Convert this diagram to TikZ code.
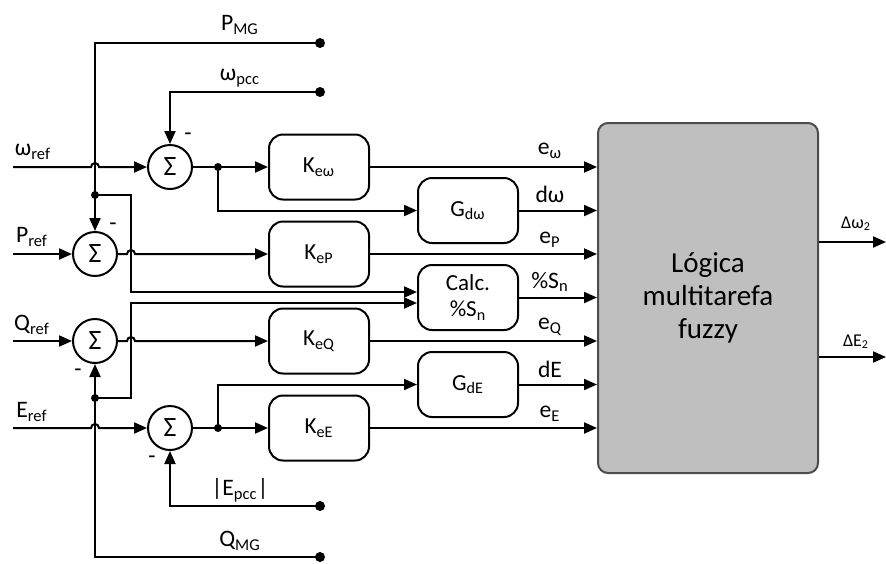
\documentclass[tikz,border=0pt]{standalone}
\usepackage{fontspec}
\setmainfont{Carlito}
\usepackage{tikz}
\usetikzlibrary{arrows.meta}
\usetikzlibrary{positioning}
\usetikzlibrary{calc}

\newcommand{\hoparc}{arc[start angle=180, end angle=0, radius=2pt]}

\tikzset{
	wire/.style={line width=1pt},
	sig/.style={line width=1pt, -{Triangle[length=6.5pt,width=5.5pt]}},
	sumnode/.style={draw, circle, line width=1pt, minimum size=22pt, inner sep=0pt, font=\fontsize{14}{15}\selectfont},
	gainbox/.style={draw, rounded corners=7pt, line width=1pt, minimum width=50pt, minimum height=32.5pt, align=center, font=\fontsize{11.5}{13}\selectfont},
	fuzzybox/.style={draw=black!70, fill=black!25, rounded corners=5pt, line width=1pt, minimum width=110pt, minimum height=175pt, align=center, font=\fontsize{14.5}{16.5}\selectfont},
	lbl/.style={font=\fontsize{11.8}{13}\selectfont, inner sep=0pt},
	smalllbl/.style={font=\fontsize{9}{10}\selectfont, inner sep=0pt},
}

\begin{document}
\begin{tikzpicture}[x=0.5pt, y=-0.5pt]
		\useasboundingbox (0,0) rectangle (886,563);
		\node[sumnode] (sw) at (170,167) {Σ};
		\node[sumnode] (sp) at (95,254) {Σ};
		\node[sumnode] (sq) at (95,341) {Σ};
		\node[sumnode] (se) at (170,428) {Σ};
		\node[gainbox] (kw) at (319,167) {K\textsubscript{eω}};
		\node[gainbox] (kp) at (319,254) {K\textsubscript{eP}};
		\node[gainbox] (kq) at (319,341) {K\textsubscript{eQ}};
		\node[gainbox] (ke) at (319,428) {K\textsubscript{eE}};
		\node[gainbox] (gw) at (468,210.5) {G\textsubscript{dω}};
		\node[gainbox] (calc) at (468,297.5) {Calc.\\\%S\textsubscript{n}};
		\node[gainbox] (ge) at (468,384.5) {G\textsubscript{dE}};
		\node[fuzzybox] (fz) at (708,298) {Lógica\\multitarefa\\fuzzy};
		\coordinate (pmg) at (320,43);
		\coordinate (wpcc) at (320,92);
		\coordinate (epcc) at (320,506);
		\coordinate (qmg) at (320,557);
		\coordinate (wref) at (13,167);
		\coordinate (pref) at (13,254);
		\coordinate (qref) at (13,341);
		\coordinate (eref) at (13,428);
		\coordinate (jp) at (95,195);
		\coordinate (jq) at (95,398);
		\coordinate (jw) at (218,167);
		\coordinate (je) at (218,428);
		\coordinate (bus) at (131,0);
		\coordinate (ci1) at ([yshift=2.75pt]calc.west);
		\coordinate (ci2) at ([yshift=-2.75pt]calc.west);
		\coordinate (ow) at (886,242);
		\coordinate (oe) at (886,357);
		\draw[wire] (pmg) -| (jp);
		\draw[sig] (jp) -- (sp.north);
		\draw[sig] (wpcc) -| (sw.north);
		\draw[sig] (wref) -- ($(jp |- wref)+(-2pt,0)$) \hoparc -- (sw.west);
		\draw[sig] (sw.east) -- (kw.west);
		\draw[sig] (jw) |- (gw.west);
		\draw[sig] (pref) -- (sp.west);
		\draw[sig] (sp.east) -- ($(bus |- sp)+(-2pt,0)$) \hoparc -- (kp.west);
		\draw[sig] (jp) -| (bus |- ci1) -- (ci1);
		\draw[sig] (qref) -- (sq.west);
		\draw[sig] (sq.east) -- ($(bus |- sq)+(-2pt,0)$) \hoparc -- (kq.west);
		\draw[sig] (jq) -| (bus |- ci2) -- (ci2);
		\draw[sig] (jq) -- (sq.south);
		\draw[wire] (qmg) -| (jq);
		\draw[sig] (eref) -- ($(jq |- eref)+(-2pt,0)$) \hoparc -- (se.west);
		\draw[sig] (se.east) -- (ke.west);
		\draw[sig] (je) |- (ge.west);
		\draw[sig] (epcc) -| (se.south);
		\foreach \b in {kw,gw,kp,calc,kq,ge,ke}
		{
			\draw[sig] (\b.east) -- (\b.east -| fz.west);
		}
		\draw[sig] (fz.east |- ow) -- (ow);
		\draw[sig] (fz.east |- oe) -- (oe);
		\foreach \j in {jw,je,jp,jq}
		{
			\fill (\j) circle (2pt);
		}
		\foreach \t in {pmg,wpcc,epcc,qmg}
		{
			\fill (\t) circle (2.5pt);
		}
		\node[lbl] (tpmg) at (240,25) {P\textsubscript{MG}};
		\node[lbl] (twpcc) at (240,78) {ω\textsubscript{pcc}};
		\node[lbl] (tepcc) at (240,490) {|E\textsubscript{pcc}|};
		\node[lbl] (tqmg) at (240,541) {Q\textsubscript{MG}};
		\node[lbl] (twref) at (33,152) {ω\textsubscript{ref}};
		\node[lbl] (tpref) at (32,237) {P\textsubscript{ref}};
		\node[lbl] (tqref) at (32,325) {Q\textsubscript{ref}};
		\node[lbl] (teref) at (32,412) {E\textsubscript{ref}};
		\node[lbl] (mw) at (188,137) {-};
		\node[lbl] (mp) at (113,227) {-};
		\node[lbl] (mq) at (78,373) {-};
		\node[lbl] (me) at (152,460) {-};
		\node[lbl] (tew) at (550,151) {e\textsubscript{ω}};
		\node[lbl] (tdw) at (550,194) {dω};
		\node[lbl] (tep) at (550,240) {e\textsubscript{P}};
		\node[lbl] (tsn) at (550,282) {\%S\textsubscript{n}};
		\node[lbl] (teq) at (550,327) {e\textsubscript{Q}};
		\node[lbl] (tde) at (550,369) {dE};
		\node[lbl] (tee) at (550,414) {e\textsubscript{E}};
		\node[smalllbl] (tow) at (856,224) {Δω\textsubscript{2}};
		\node[smalllbl] (toe) at (856,342) {ΔE\textsubscript{2}};
	\end{tikzpicture}
\end{document}
